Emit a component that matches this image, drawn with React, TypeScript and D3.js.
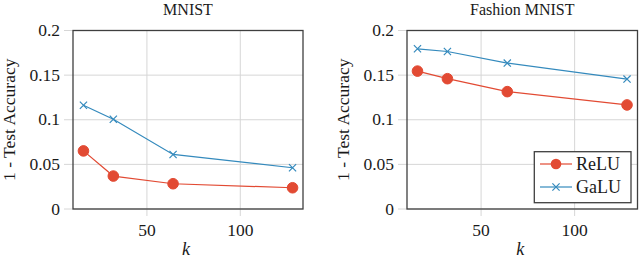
import * as d3 from "d3";
import React from "react";

// hidden units
const ks = [16, 32, 64, 128];
// 1 - test accuracy
const mnistRelu = [0.0651, 0.0369, 0.0283, 0.0238];
const mnistGalu = [0.1162, 0.1006, 0.0611, 0.0462];
const fashionRelu = [0.1545, 0.146, 0.1315, 0.1166];
const fashionGalu = [0.1795, 0.1765, 0.1635, 0.1456];
const xTicks = [50, 100];
const yTicks = [0, 0.05, 0.1, 0.15, 0.2];
const seriesNames = ["ReLU", "GaLU"];

const RED = "#e24a33";
const BLUE = "#348abd";
const FONT = "Liberation Serif";

const W = 640;
const H = 257;
const top = 30.5;
const bottom = 209;

type PanelProps = {
  title: string;
  left: number;
  right: number;
  relu: number[];
  galu: number[];
  legend?: boolean;
};

const T = (props: any) => <text fontFamily={FONT} fill="#1a1a1a" {...props} />;

const Panel = ({ title, left, right, relu, galu, legend }: PanelProps) => {
  const pad = (ks[ks.length - 1] - ks[0]) * 0.05;
  const x = d3.scaleLinear().domain([ks[0] - pad, ks[ks.length - 1] + pad]).range([left, right]);
  const y = d3.scaleLinear().domain([0, 0.2]).range([bottom, top]);
  const line = d3.line<number>().x((_, i) => x(ks[i])).y((d) => y(d));
  const cx = (left + right) / 2;
  const cross = (px: number, py: number, s: number, key: any) => (
    <path key={key} d={`M${px - s},${py - s}L${px + s},${py + s}M${px - s},${py + s}L${px + s},${py - s}`}
      stroke={BLUE} strokeWidth={1.2} fill="none" />
  );
  return (
    <g>
      <T x={cx} y={14.5} textAnchor="middle" fontSize={16}>{title}</T>
      {/* grid + ticks */}
      {yTicks.map((t) => (
        <g key={"y" + t}>
          <line x1={left - 9} x2={right} y1={y(t)} y2={y(t)} stroke="#d6d6d6" strokeWidth={1} />
          <T x={left - 13} y={y(t) + 5.5} textAnchor="end" fontSize={17.5}>{t === 0 ? "0" : String(t)}</T>
        </g>
      ))}
      {xTicks.map((t) => (
        <g key={"x" + t}>
          <line x1={x(t)} x2={x(t)} y1={top} y2={bottom + 7} stroke="#d6d6d6" strokeWidth={1} />
          <T x={x(t)} y={236} textAnchor="middle" fontSize={17.5}>{t}</T>
        </g>
      ))}
      <T x={cx - 2} y={254.5} textAnchor="middle" fontSize={18} fontStyle="italic">k</T>
      <T transform={`translate(${left - 58},${(top + bottom) / 2}) rotate(-90)`} textAnchor="middle" fontSize={17.5}>
        1 - Test Accuracy
      </T>
      {/* series */}
      <path d={line(relu) ?? ""} fill="none" stroke={RED} strokeWidth={1.2} />
      {relu.map((v, i) => (
        <circle key={"r" + i} cx={x(ks[i])} cy={y(v)} r={5.3} fill={RED} stroke={RED} />
      ))}
      <path d={line(galu) ?? ""} fill="none" stroke={BLUE} strokeWidth={1.2} />
      {galu.map((v, i) => cross(x(ks[i]), y(v), 3.6, "g" + i))}
      <rect x={left} y={top} width={right - left} height={bottom - top} fill="none" stroke="#3f3f3f" strokeWidth={1.3} />
      {legend && (
        <g>
          <rect x={534.3} y={151.7} width={96.7} height={51} fill="white" stroke="#3f3f3f" strokeWidth={1.3} />
          <line x1={540} x2={572} y1={164} y2={164} stroke={RED} strokeWidth={1.2} />
          <circle cx={556} cy={164} r={5.3} fill={RED} />
          <T x={576} y={170} fontSize={18}>{seriesNames[0]}</T>
          <line x1={540} x2={572} y1={187} y2={187} stroke={BLUE} strokeWidth={1.2} />
          {cross(556, 187, 3.6, "lg")}
          <T x={576} y={193} fontSize={18}>{seriesNames[1]}</T>
        </g>
      )}
    </g>
  );
};

export default function App() {
  return (
    <svg width={W} height={H}
      style={{ display: "block", position: "absolute", left: 0, top: 0, background: "white" }}>
      <Panel title="MNIST" left={73} right={303} relu={mnistRelu} galu={mnistGalu} />
      <Panel title="Fashion MNIST" left={407} right={637.5} relu={fashionRelu} galu={fashionGalu} legend />
    </svg>
  );
}
